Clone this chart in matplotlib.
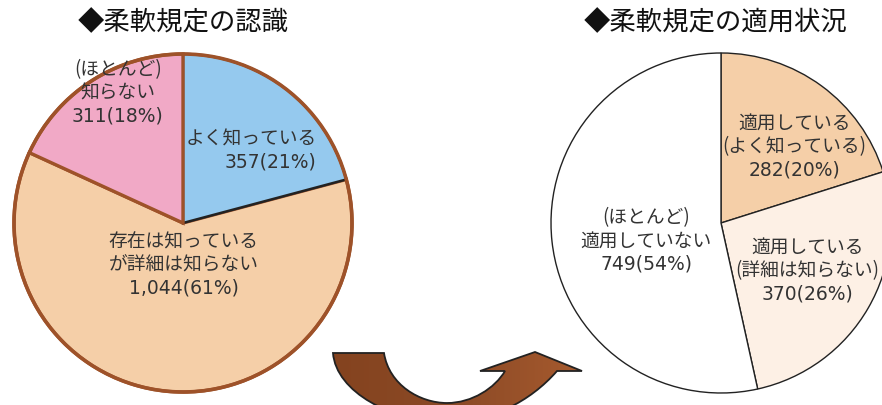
import matplotlib.pyplot as plt
import numpy as np
from matplotlib.path import Path
from matplotlib.patches import PathPatch, Circle
from matplotlib.colors import LinearSegmentedColormap

plt.rcParams['font.family'] = ['Noto Sans CJK JP', 'DejaVu Sans']

# data
left_title = '◆柔軟規定の認識'
left_labels = ['よく知っている', '存在は知っている\nが詳細は知らない', '(ほとんど)\n知らない']
left_values = [357, 1044, 311]
left_pcts = [21, 61, 18]
left_colors = ['#95c9ee', '#f5cfa8', '#f1a9c6']

right_title = '◆柔軟規定の適用状況'
right_labels = ['適用している\n(よく知っている)', '適用している\n(詳細は知らない)', '(ほとんど)\n適用していない']
right_values = [282, 370, 749]
right_pcts = [20, 26, 54]
right_colors = ['#f5cfa8', '#fdf0e5', '#ffffff']

W, H = 882, 405
BROWN = '#9e5229'
TXT = '#333333'

fig = plt.figure(figsize=(W / 100, H / 100), dpi=100)

# arrow (background layer, pixel coords)
bg = fig.add_axes([0, 0, 1, 1])
bg.set_xlim(0, W)
bg.set_ylim(H, 0)
bg.axis('off')
verts = [(333, 353), (384, 353),
         (389, 385), (420, 403), (447, 403),
         (472, 403), (495, 388), (505, 371),
         (480, 371), (535, 352), (582, 371), (557, 371),
         (530, 402), (490, 422), (447, 422),
         (392, 422), (336, 392), (333, 353),
         (333, 353)]
codes = [Path.MOVETO, Path.LINETO,
         Path.CURVE4, Path.CURVE4, Path.CURVE4,
         Path.CURVE4, Path.CURVE4, Path.CURVE4,
         Path.LINETO, Path.LINETO, Path.LINETO, Path.LINETO,
         Path.CURVE4, Path.CURVE4, Path.CURVE4,
         Path.CURVE4, Path.CURVE4, Path.CURVE4,
         Path.CLOSEPOLY]
arrow = PathPatch(Path(verts, codes), facecolor='none', edgecolor='#222222', lw=1.3, zorder=3)
bg.add_patch(arrow)
cmap = LinearSegmentedColormap.from_list('br', ['#84431f', '#8c4a26', '#a65a2e'])
grad = np.linspace(0, 1, 256).reshape(1, -1)
im = bg.imshow(grad, cmap=cmap, extent=[333, 582, 425, 350], aspect='auto', zorder=2)
im.set_clip_path(arrow)
bg.set_xlim(0, W)
bg.set_ylim(H, 0)


def pie_axes(cx, cy, r):
    m = 1.04
    ax = fig.add_axes([(cx - r * m) / W, (H - cy - r * m) / H, 2 * r * m / W, 2 * r * m / H])
    ax.axis('off')
    return ax


def block(ax, x, y, lab, v, p, r, ha='center'):
    lines = lab.split('\n') + [f'{v:,}({p}%)']
    s = 23 / r
    n = len(lines)
    for i, ln in enumerate(lines):
        yy = y + (n - 1) / 2 * s - i * s
        if i == n - 1:
            ax.text(x, yy, ln, ha=ha, va='center', fontsize=13.5, color=TXT,
                    family='DejaVu Sans', zorder=6)
        else:
            ax.text(x, yy, ln, ha=ha, va='center', fontsize=13.5, color=TXT, zorder=6)


# left pie
ax1 = pie_axes(183, 223, 169)
w1, _ = ax1.pie(left_values, colors=left_colors, startangle=90, counterclock=False,
                wedgeprops=dict(edgecolor=BROWN, linewidth=2.4))
ax1.set_xlim(-1.04, 1.04)
ax1.set_ylim(-1.04, 1.04)
w1[0].set_edgecolor('#222222')
w1[0].set_linewidth(1.8)
w1[0].set_zorder(3)
w1[2].set_zorder(4)
ax1.add_patch(Circle((0, 0), 1, fill=False, edgecolor=BROWN, lw=2.6, zorder=5))
left_pos = [(0.79, 0.43), (0.005, -0.25), (-0.385, 0.77)]
left_ha = ['right', 'center', 'center']
for lab, v, p, (x, y), ha in zip(left_labels, left_values, left_pcts, left_pos, left_ha):
    block(ax1, x, y, lab, v, p, 169, ha)

# right pie
ax2 = pie_axes(721, 223, 170)
w2, _ = ax2.pie(right_values, colors=right_colors, startangle=90, counterclock=False,
                wedgeprops=dict(edgecolor='#222222', linewidth=1.0))
ax2.set_xlim(-1.04, 1.04)
ax2.set_ylim(-1.04, 1.04)
right_pos = [(0.43, 0.45), (0.51, -0.28), (-0.44, -0.105)]
for lab, v, p, (x, y) in zip(right_labels, right_values, right_pcts, right_pos):
    block(ax2, x, y, lab, v, p, 170)

fig.text(183 / W, 1 - 23 / H, left_title, ha='center', va='center', fontsize=19, color='#111111')
fig.text(716 / W, 1 - 23 / H, right_title, ha='center', va='center', fontsize=19, color='#111111')

fig.savefig('out.png', dpi=100)
